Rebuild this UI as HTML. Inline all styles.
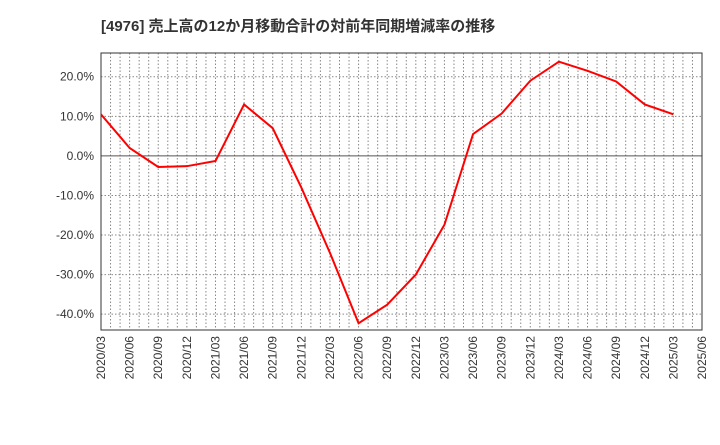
<!DOCTYPE html>
<html><head><meta charset="utf-8"><style>
body{margin:0;background:#fff;font-family:"Liberation Sans","Noto Sans CJK JP",sans-serif}
</style></head><body>
<svg id="c" width="720" height="440" xmlns="http://www.w3.org/2000/svg">
<text x="101" y="31" font-size="15" font-weight="bold" fill="#333" font-family="Liberation Sans, Noto Sans CJK JP, sans-serif">[4976]  売上高の12か月移動合計の対前年同期増減率の推移</text>
<g id="grid"></g><g id="axes"></g><g id="series"></g>
</svg>
<script>
const categories=["2020/03","2020/06","2020/09","2020/12","2021/03","2021/06","2021/09","2021/12","2022/03","2022/06","2022/09","2022/12","2023/03","2023/06","2023/09","2023/12","2024/03","2024/06","2024/09","2024/12","2025/03"];
const values=[10.5,2,-2.8,-2.6,-1.3,13,7,-8,-24.5,-42.3,-37.6,-30,-17.4,5.5,10.7,19,23.8,21.5,18.8,13,10.5];
const xTicks=["2020/03","2020/06","2020/09","2020/12","2021/03","2021/06","2021/09","2021/12","2022/03","2022/06","2022/09","2022/12","2023/03","2023/06","2023/09","2023/12","2024/03","2024/06","2024/09","2024/12","2025/03","2025/06"];
const yTicks=[20,10,0,-10,-20,-30,-40];
const L=101,R=702,T=53,B=330,yMax=26,yMin=-44;
const ns="http://www.w3.org/2000/svg";
const xq=i=>L+(R-L)*i/21;
const y=v=>T+(yMax-v)/(yMax-yMin)*(B-T);
function mk(tag,attrs,parent){const e=document.createElementNS(ns,tag);for(const k in attrs)e.setAttribute(k,attrs[k]);document.getElementById(parent).appendChild(e);return e;}
const bg=mk("rect",{x:L,y:T,width:R-L,height:B-T,fill:"#fff",stroke:"none"},"grid");


for(let m=1;m<63;m++){const x=L+(R-L)*m/63;const g=mk("line",{x1:x,x2:x,y1:T,y2:B,stroke:"#888","stroke-dasharray":"1.5,2","stroke-width":1},"grid");

}
yTicks.forEach(v=>{const g=mk("line",{x1:L,x2:R,y1:y(v),y2:y(v),stroke:v===0?"#555":"#888","stroke-dasharray":v===0?"":"1.5,2","stroke-width":1},"grid");


const t=mk("text",{x:L-7,y:y(v)+4,"text-anchor":"end","font-size":12,fill:"#333"},"axes");t.textContent=v.toFixed(1)+"%";

});
xTicks.forEach((s,i)=>{const x=xq(i);const t=mk("text",{transform:`translate(${x+4},${B+6}) rotate(-90)`,"text-anchor":"end","font-size":12,fill:"#333"},"axes");t.textContent=s;

});
const fr=mk("rect",{x:L,y:T,width:R-L,height:B-T,fill:"none",stroke:"#333","stroke-width":1},"axes");


const p=mk("polyline",{points:values.map((v,i)=>xq(i)+","+y(v)).join(" "),fill:"none",stroke:"#f00","stroke-width":2},"series");


</script>
</body></html>
